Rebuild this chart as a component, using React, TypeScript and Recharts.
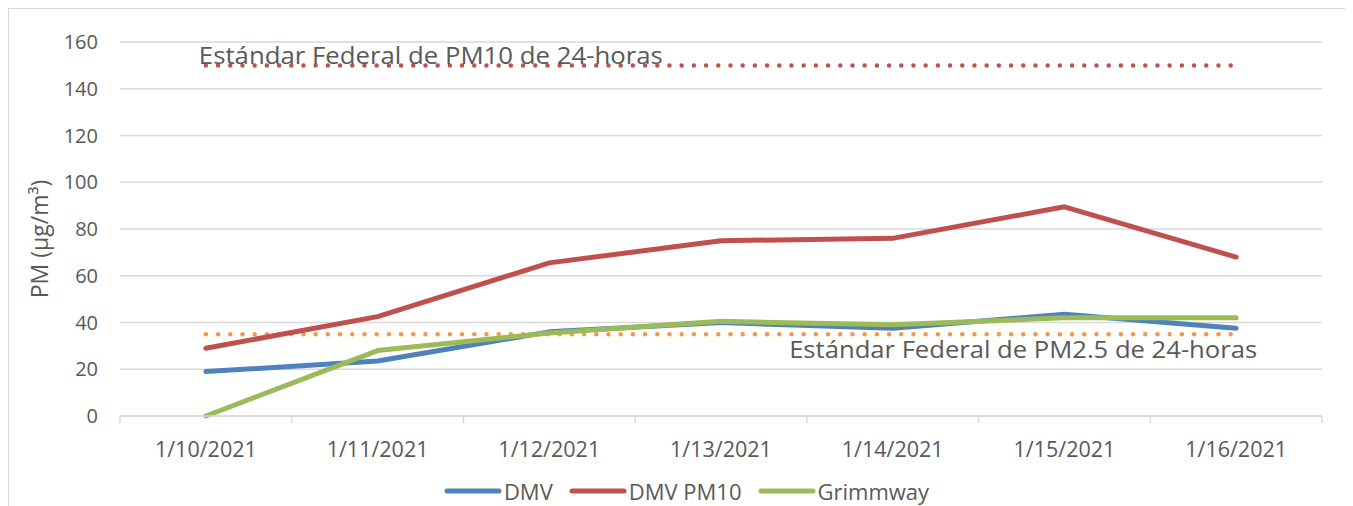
import React from 'react';
import { LineChart, Line, XAxis, YAxis, CartesianGrid, Legend } from 'recharts';

const dates = ['1/10/2021', '1/11/2021', '1/12/2021', '1/13/2021', '1/14/2021', '1/15/2021', '1/16/2021'];
const dmv = [19, 23.5, 36, 40, 37.5, 43.5, 37.5];
const dmvPm10 = [29, 42.5, 65.5, 75, 76, 89.5, 68];
const grimmway = [0, 28, 35.5, 40.5, 39, 42, 42];
const pm10Standard = [150, 150, 150, 150, 150, 150, 150];
const pm25Standard = [35, 35, 35, 35, 35, 35, 35];
const yTicks = [0, 20, 40, 60, 80, 100, 120, 140, 160];

const pm10Label = 'Estándar Federal de PM10 de 24-horas';
const pm25Label = 'Estándar Federal de PM2.5 de 24-horas';
const yLabel = 'PM (µg/m³)';

const series = [
  { key: 'dmv', name: 'DMV', color: '#4F81BD' },
  { key: 'dmvPm10', name: 'DMV PM10', color: '#C0504D' },
  { key: 'grimmway', name: 'Grimmway', color: '#9BBB59' },
];

const data = dates.map((d, i) => ({
  x: i + 0.5,
  date: d,
  dmv: dmv[i],
  dmvPm10: dmvPm10[i],
  grimmway: grimmway[i],
  pm10: pm10Standard[i],
  pm25: pm25Standard[i],
}));

const xTicks: number[] = [];
for (let i = 0; i <= dates.length * 2; i++) xTicks.push(i / 2);

const FONT = '"Open Sans", sans-serif';
const TEXT = '#595959';
const GRID = '#D9D9D9';

const XTick = (props: any) => {
  const { x, y, payload } = props;
  const v = payload.value as number;
  if (Number.isInteger(v)) {
    return <line x1={x} x2={x} y1={y} y2={y + 7} stroke={GRID} strokeWidth={1.5} />;
  }
  const label = dates[Math.floor(v)];
  return (
    <text x={x} y={y + 41} textAnchor="middle" fill={TEXT} fontSize={21.5} fontFamily={FONT}>
      {label}
    </text>
  );
};

const YLabel = (props: any) => {
  const vb = props.viewBox || { x: 0, y: 0, width: 0, height: 0 };
  const cx = vb.x + 30;
  const cy = vb.y + vb.height / 2 + 10;
  return (
    <text
      x={cx}
      y={cy}
      transform={`rotate(-90 ${cx} ${cy})`}
      textAnchor="middle"
      dominantBaseline="central"
      fill={TEXT}
      fontSize={23}
      fontFamily={FONT}
    >
      {yLabel}
    </text>
  );
};

const Pm10Text = (props: any) => {
  const { x, y, index } = props;
  if (index !== 0) return null;
  return (
    <text
      x={x - 7}
      y={y - 1}
      textAnchor="start"
      fill={TEXT}
      fontSize={23.5}
      fontFamily={FONT}
      textLength={464}
      lengthAdjust="spacingAndGlyphs"
    >
      {pm10Label}
    </text>
  );
};

const Pm25Text = (props: any) => {
  const { x, y, index } = props;
  if (index !== dates.length - 1) return null;
  return (
    <text
      x={x + 21 - 468}
      y={y + 24}
      textAnchor="start"
      fill={TEXT}
      fontSize={23.5}
      fontFamily={FONT}
      textLength={468}
      lengthAdjust="spacingAndGlyphs"
    >
      {pm25Label}
    </text>
  );
};

const LegendContent = () => (
  <div
    style={{
      display: 'flex',
      justifyContent: 'center',
      alignItems: 'center',
      height: 24,
      fontFamily: FONT,
      fontSize: 22,
      color: TEXT,
      paddingLeft: 58,
    }}
  >
    {series.map((s) => (
      <div key={s.key} style={{ display: 'flex', alignItems: 'center', marginRight: 16 }}>
        <svg width={58} height={10} style={{ marginRight: 2 }}>
          <line x1={3} x2={55} y1={5} y2={5} stroke={s.color} strokeWidth={5} strokeLinecap="round" />
        </svg>
        <span>{s.name}</span>
      </div>
    ))}
  </div>
);

export default function App() {
  return (
    <div style={{ width: 1337, height: 506, border: `1px solid ${GRID}`, boxSizing: 'content-box', background: '#fff' }}>
      <LineChart
        width={1335}
        height={506}
        data={data}
        margin={{ top: 33, right: 22, bottom: 12, left: 0 }}
      >
        <CartesianGrid vertical={false} stroke={GRID} strokeWidth={1.5} />
        <XAxis
          dataKey="x"
          type="number"
          domain={[0, dates.length]}
          ticks={xTicks}
          interval={0}
          tick={<XTick />}
          tickLine={false}
          tickSize={0}
          tickMargin={0}
          axisLine={{ stroke: GRID, strokeWidth: 1.5 }}
          height={63}
        />
        <YAxis
          domain={[0, 160]}
          ticks={yTicks}
          interval={0}
          width={111}
          axisLine={false}
          tickLine={false}
          tickSize={0}
          tickMargin={22}
          tick={{ fill: TEXT, fontSize: 20, fontFamily: FONT }}
          label={<YLabel />}
        />
        <Legend verticalAlign="bottom" content={<LegendContent />} height={24} />
        <Line
          dataKey="pm10"
          stroke="#C0504D"
          strokeWidth={4.5}
          strokeDasharray="0 12.2"
          strokeLinecap="round"
          dot={false}
          isAnimationActive={false}
          legendType="none"
          label={<Pm10Text />}
        />
        <Line
          dataKey="pm25"
          stroke="#F79646"
          strokeWidth={4.5}
          strokeDasharray="0 12.2"
          strokeLinecap="round"
          dot={false}
          isAnimationActive={false}
          legendType="none"
          label={<Pm25Text />}
        />
        {series.map((s) => (
          <Line
            key={s.key}
            dataKey={s.key}
            name={s.name}
            stroke={s.color}
            strokeWidth={5}
            strokeLinecap="round"
            strokeLinejoin="round"
            dot={false}
            isAnimationActive={false}
          />
        ))}
      </LineChart>
    </div>
  );
}
